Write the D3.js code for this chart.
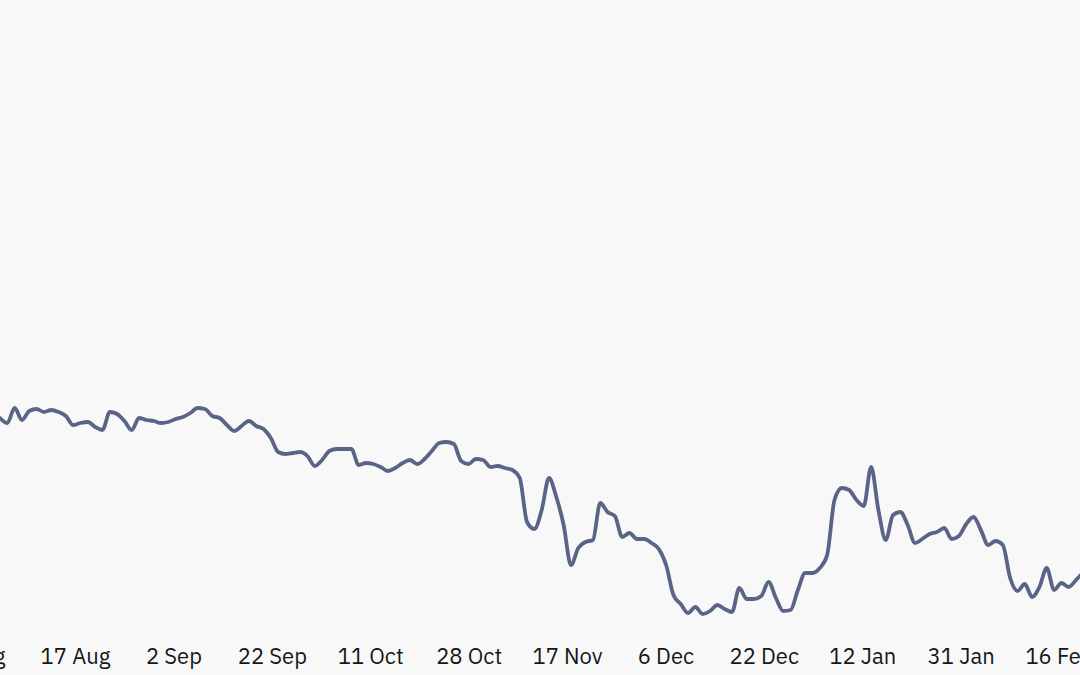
<!DOCTYPE html>
<html>
<head>
<meta charset="utf-8">
<script src="https://cdn.jsdelivr.net/npm/d3@7"></script>
<style>
  html, body { margin: 0; padding: 0; background: #f8f8f8; overflow: hidden; }
  svg { display: block; }
</style>
</head>
<body>
<svg id="chart" width="1080" height="675"></svg>
<script>
// Series values (one per trading day, arbitrary units)
const values = [
  22.2, 21.7, 23.2, 22.0, 22.9, 23.1, 22.8, 23.0, 22.8, 22.4,
  21.5, 21.7, 21.8, 21.3, 21.0, 22.8, 22.6, 21.9, 21.0, 22.2,
  22.0, 21.9, 21.7, 21.8, 22.1, 22.3, 22.7, 23.2, 23.1, 22.4,
  22.2, 21.5, 20.9, 21.4, 21.9, 21.4, 21.1, 20.2, 18.8, 18.6,
  18.7, 18.8, 18.4, 17.4, 18.0, 18.9, 19.1, 19.1, 19.1, 17.5,
  17.7, 17.6, 17.3, 16.9, 17.2, 17.7, 18.0, 17.6, 18.1, 18.9,
  19.7, 19.8, 19.6, 17.9, 17.6, 18.1, 18.0, 17.3, 17.4, 17.2,
  17.0, 16.2, 11.8, 11.1, 13.0, 16.2, 14.3, 11.5, 7.5, 9.2,
  9.8, 10.0, 13.7, 12.8, 12.4, 10.3, 10.7, 10.1, 10.1, 9.7,
  9.1, 7.5, 4.5, 3.6, 2.7, 3.3, 2.6, 2.9, 3.5, 3.1,
  2.8, 5.2, 4.1, 4.1, 4.4, 5.8, 4.2, 2.9, 3.0, 5.0,
  6.7, 6.7, 7.2, 8.5, 14.0, 15.2, 15.0, 14.0, 13.4, 17.3,
  13.0, 10.0, 12.5, 12.8, 11.5, 9.7, 10.1, 10.6, 10.8, 11.2,
  10.1, 10.4, 11.6, 12.3, 11.0, 9.5, 9.9, 9.5, 6.2, 4.9,
  5.6, 4.3, 5.3, 7.2, 5.0, 5.7, 5.3, 6.0, 6.8
];

// Tick labels and the (fractional) data index each one marks
const tickLabels = ["1 Aug", "17 Aug", "2 Sep", "22 Sep", "11 Oct", "28 Oct",
                    "17 Nov", "6 Dec", "22 Dec", "12 Jan", "31 Jan", "16 Feb"];
const tickIndex = [-3.2, 10.25, 23.69, 37.13, 50.57, 64.02,
                   77.46, 90.9, 104.34, 117.79, 131.23, 144.67];

const W = 1080, H = 675;
const step = 7.32;
const svg = d3.select("#chart");

svg.append("rect").attr("width", W).attr("height", H).attr("fill", "#f8f8f8");

const x = d3.scaleLinear()
  .domain([0, values.length - 1])
  .range([0, (values.length - 1) * step]);

const y = d3.scaleLinear()
  .domain([0, 64])
  .range([640, 0]);

const line = d3.line()
  .x((d, i) => x(i))
  .y(d => y(d))
  .curve(d3.curveMonotoneX);

svg.append("path")
  .datum(values)
  .attr("d", line)
  .attr("fill", "none")
  .attr("stroke", "#5a6487")
  .attr("stroke-width", 3.8)
  .attr("stroke-linejoin", "round")
  .attr("stroke-linecap", "round");

const axis = d3.axisBottom(x)
  .tickValues(tickIndex)
  .tickFormat((d, i) => tickLabels[i])
  .tickSize(0)
  .tickPadding(8);

const g = svg.append("g")
  .attr("transform", "translate(0,640)")
  .call(axis);

g.select(".domain").remove();
g.selectAll("text")
  .attr("fill", "#161616")
  .style("font-family", "'IBM Plex Sans', Roboto, 'Noto Sans', sans-serif")
  .style("font-size", "22px");
</script>
</body>
</html>
